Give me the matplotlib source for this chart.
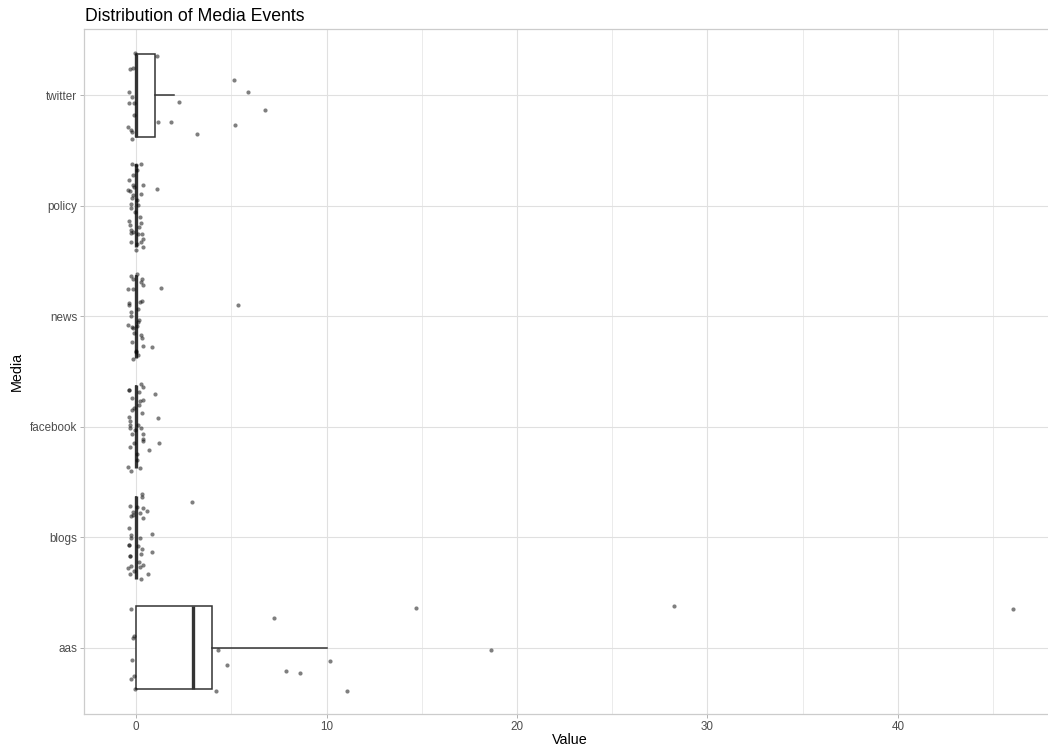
import matplotlib.pyplot as plt

plt.rcParams['font.family'] = ['Liberation Sans', 'DejaVu Sans']

# Categories bottom to top
media = ["aas", "blogs", "facebook", "news", "policy", "twitter"]

# Box statistics per medium: q1, median, q3, lower / upper whisker end
q1 = [0, 0, 0, 0, 0, 0]
median = [3, 0, 0, 0, 0, 0]
q3 = [4, 0, 0, 0, 0, 1]
whisker_lo = [0, 0, 0, 0, 0, 0]
whisker_hi = [10, 0, 0, 0, 0, 2]

# Jittered observations: value and vertical jitter (in category units)
aas_vals = [-0.26, -0.10, -0.14, -0.23, -0.26, -0.10, -0.05, 4.32, 4.18, 4.78,
            7.26, 7.89, 8.61, 10.20, 11.06, 14.70, 18.64, 28.24, 46.05]
aas_jit = [0.35, 0.11, 0.09, -0.11, -0.28, -0.26, -0.37, -0.02, -0.39, -0.16,
           0.27, -0.21, -0.23, -0.12, -0.39, 0.36, -0.02, 0.38, 0.35]

blogs_vals = [0.33, 0.30, 2.92, -0.31, 0.04, 0.35, 0.59, -0.17, 0.21, -0.26,
              0.35, -0.14, -0.35, 0.84, -0.28, -0.28, 0.21, -0.35, -0.35, 0.12,
              0.33, 0.84, 0.25, -0.31, -0.31, 0.17, 0.35, -0.28, 0.21, -0.40,
              -0.10, 0.65, -0.31, 0.26]
blogs_jit = [0.39, 0.36, 0.32, 0.28, 0.27, 0.26, 0.24, 0.23, 0.22, 0.19,
             0.17, 0.20, 0.08, 0.03, 0.02, -0.01, -0.01, -0.07, -0.07, -0.08,
             -0.11, -0.13, -0.15, -0.17, -0.17, -0.22, -0.25, -0.26, -0.27, -0.28,
             -0.31, -0.33, -0.33, -0.38]

facebook_vals = [-0.35, -0.35, 0.25, 0.35, 1.00, 0.17, -0.23, 0.35, 0.21, -0.10,
                 0.30, 1.17, -0.35, -0.31, -0.31, 0.12, -0.31, 0.25, -0.23, 0.38,
                 0.38, 0.38, -0.10, 1.19, -0.31, 0.70, 0.07, -0.40, -0.28, 0.21,
                 0.16, -0.05, 0.05, -0.20]
facebook_jit = [0.33, 0.33, 0.39, 0.36, 0.30, 0.31, 0.26, 0.24, 0.23, 0.17,
                0.12, 0.08, 0.09, 0.05, 0.02, 0.02, -0.01, -0.01, -0.07, -0.07,
                -0.11, -0.13, -0.15, -0.15, -0.18, -0.21, -0.25, -0.36, -0.40, -0.37,
                0.20, -0.03, -0.30, 0.15]

news_vals = [-0.28, 0.04, -0.14, 0.30, 0.25, 0.35, -0.40, -0.14, 1.31, 5.34,
             0.30, 0.21, -0.35, 0.09, -0.28, -0.28, 0.17, 0.12, -0.40, -0.23,
             0.07, -0.10, 0.26, -0.23, 0.35, 0.86, -0.02, 0.12, -0.14, -0.16,
             0.02, -0.35, 0.30]
news_jit = [0.36, 0.38, 0.34, 0.34, 0.31, 0.28, 0.25, 0.25, 0.26, 0.10,
            0.14, 0.13, 0.10, 0.07, 0.04, 0.00, -0.03, -0.05, -0.08, -0.10,
            -0.09, -0.15, -0.17, -0.23, -0.27, -0.28, -0.31, -0.35, -0.39, -0.11,
            -0.32, 0.12, -0.20]

policy_vals = [-0.23, 0.25, 0.00, 0.07, -0.37, -0.14, 0.38, 1.09, -0.40, -0.31,
               0.25, -0.14, -0.23, 0.07, -0.28, 0.10, -0.26, 0.21, -0.35, 0.26,
               -0.31, 0.17, -0.28, -0.14, 0.30, 0.12, -0.26, 0.26, 0.07, 0.35,
               0.00, 0.38, -0.28, -0.16, -0.05, -0.10]
policy_jit = [0.38, 0.38, 0.37, 0.32, 0.23, 0.19, 0.19, 0.15, 0.14, 0.13,
              0.11, 0.10, 0.07, 0.05, 0.02, 0.01, -0.02, -0.10, -0.14, -0.16,
              -0.17, -0.19, -0.25, -0.24, -0.26, -0.26, -0.33, -0.33, -0.35, -0.37,
              -0.40, -0.30, -0.22, 0.28, -0.06, 0.17]

twitter_vals = [-0.05, 1.10, -0.31, -0.16, -0.37, -0.21, -0.37, -0.10, -0.10, -0.42,
                -0.26, -0.21, -0.21, 1.15, 1.84, 2.26, 3.20, 5.14, 5.88, 6.77, 5.20]
twitter_jit = [0.38, 0.36, 0.24, 0.25, 0.03, -0.02, -0.07, -0.07, -0.18, -0.29,
               -0.31, -0.33, -0.40, -0.24, -0.24, -0.06, -0.35, 0.14, 0.03, -0.13, -0.27]

values = [aas_vals, blogs_vals, facebook_vals, news_vals, policy_vals, twitter_vals]
jitter = [aas_jit, blogs_jit, facebook_jit, news_jit, policy_jit, twitter_jit]

fig = plt.figure(figsize=(10.48, 7.53), dpi=100)
ax = fig.add_axes([0.0802, 0.0518, 0.9284, 0.9097])

positions = list(range(1, len(media) + 1))
stats = []
for i, name in enumerate(media):
    stats.append({"label": name, "q1": q1[i], "med": median[i], "q3": q3[i],
                  "whislo": whisker_lo[i], "whishi": whisker_hi[i], "fliers": []})

box_col = "#333333"
ax.bxp(stats, positions=positions, widths=0.75, orientation="horizontal",
       showfliers=False, showcaps=False, patch_artist=True,
       boxprops=dict(facecolor="white", edgecolor=box_col, linewidth=1.1),
       whiskerprops=dict(color=box_col, linewidth=1.1),
       medianprops=dict(color=box_col, linewidth=2.4, solid_capstyle="butt"),
       zorder=2)

# jittered points on top of the boxes
for pos, vals, jit in zip(positions, values, jitter):
    ys = [pos + j for j in jit]
    ax.scatter(vals, ys, s=9, color="black", alpha=0.5, linewidths=0, zorder=3)

ax.set_xlim(-2.73, 48.35)
ax.set_ylim(0.4, 6.6)
ax.set_xticks([0, 10, 20, 30, 40])
ax.set_xticks([5, 15, 25, 35, 45], minor=True)
ax.set_yticks(positions)
ax.set_yticklabels(media)

ax.set_axisbelow(True)
ax.grid(True, which="major", color="#e0e0e0", linewidth=0.8)
ax.grid(True, which="minor", axis="x", color="#ebebeb", linewidth=0.7)
for sp in ax.spines.values():
    sp.set_color("#cccccc")
    sp.set_linewidth(0.9)

ax.tick_params(axis="both", which="major", length=2.6, width=0.7, color="#b3b3b3",
               labelsize=8.4, labelcolor="#4d4d4d", pad=2.2)
ax.tick_params(axis="x", which="minor", length=0)

fig.text(85 / 1048, 1 - 21 / 753, "Distribution of Media Events",
         fontsize=12.7, color="black", ha="left", va="baseline")
fig.text(570 / 1048, 1 - 740 / 753, "Value", fontsize=10.4, ha="center", va="center")
fig.text(17 / 1048, 1 - 371 / 753, "Media", fontsize=10.4, rotation=90,
         ha="center", va="center")

fig.savefig("out.png", dpi=100)
